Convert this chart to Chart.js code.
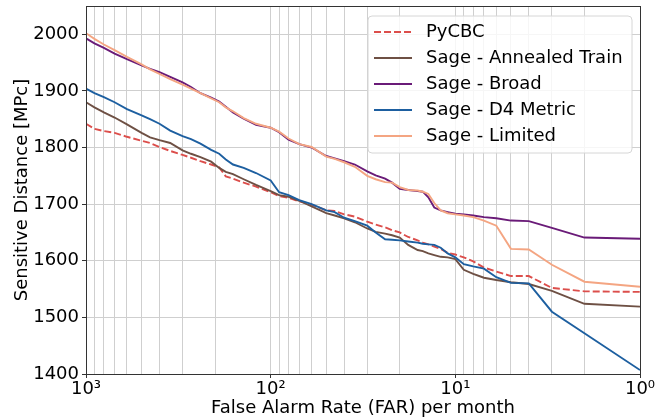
<!DOCTYPE html>
<html>
<head>
<meta charset="utf-8">
<script src="https://cdn.jsdelivr.net/npm/chart.js@4/dist/chart.umd.min.js"></script>
<style>
  html, body { margin: 0; padding: 0; background: #ffffff; }
  #wrap { width: 657px; height: 418px; }
</style>
</head>
<body>
<div id="wrap"><canvas id="c" width="657" height="418"></canvas></div>
<script>
// ---- data ----
const farValues = [1000, 900, 800, 700, 600, 500, 450, 400, 350, 300, 270, 240, 210, 190, 175, 160, 140, 120, 100, 90, 80, 70, 60, 50, 45, 40, 35, 30, 27, 24, 22, 20, 18, 16, 15, 14, 13, 12, 11, 10, 9, 8, 7, 6, 5, 4, 3, 2, 1];

const pycbc = [1842, 1833, 1829, 1826, 1819, 1812, 1808, 1801, 1794, 1787, 1782, 1776, 1770, 1765, 1749, 1745, 1738, 1731, 1721, 1714, 1711, 1705, 1699, 1689, 1688, 1682, 1678, 1669, 1664, 1659, 1654, 1650, 1642, 1636, 1632, 1629, 1625, 1621, 1614, 1611, 1606, 1599, 1588, 1581, 1573, 1573, 1552, 1546, 1545];

const annealedTrain = [1880, 1871, 1862, 1853, 1841, 1826, 1818, 1813, 1808, 1795, 1789, 1783, 1775, 1764, 1757, 1753, 1744, 1734, 1723, 1716, 1713, 1706, 1696, 1684, 1680, 1675, 1668, 1657, 1651, 1648, 1645, 1641, 1628, 1619, 1617, 1613, 1610, 1607, 1606, 1603, 1584, 1577, 1570, 1566, 1562, 1559, 1547, 1524, 1519];

const broad = [1993, 1984, 1976, 1966, 1956, 1945, 1939, 1933, 1925, 1915, 1907, 1896, 1888, 1881, 1872, 1862, 1851, 1840, 1835, 1827, 1814, 1806, 1800, 1785, 1781, 1776, 1770, 1758, 1751, 1745, 1738, 1727, 1725, 1723, 1722, 1712, 1694, 1689, 1686, 1683, 1682, 1680, 1677, 1675, 1671, 1670, 1658, 1641, 1639];

const d4Metric = [1904, 1896, 1889, 1880, 1868, 1857, 1850, 1842, 1830, 1820, 1815, 1807, 1796, 1789, 1779, 1770, 1764, 1755, 1742, 1721, 1716, 1707, 1700, 1689, 1686, 1676, 1670, 1662, 1650, 1638, 1637, 1636, 1634, 1632, 1630, 1629, 1628, 1623, 1613, 1606, 1594, 1590, 1586, 1571, 1561, 1560, 1510, 1472, 1407];

const limited = [2002, 1992, 1982, 1972, 1960, 1947, 1938, 1930, 1921, 1911, 1904, 1896, 1887, 1880, 1871, 1864, 1852, 1842, 1835, 1828, 1816, 1806, 1801, 1784, 1780, 1774, 1766, 1750, 1744, 1739, 1738, 1730, 1725, 1724, 1722, 1718, 1702, 1689, 1684, 1682, 1680, 1677, 1671, 1662, 1621, 1620, 1593, 1563, 1554];

const seriesNames = ['PyCBC', 'Sage - Annealed Train', 'Sage - Broad', 'Sage - D4 Metric', 'Sage - Limited'];

const xGridValues = [1, 2, 3, 4, 5, 6, 7, 8, 9, 10, 20, 30, 40, 50, 60, 70, 80, 90, 100, 200, 300, 400, 500, 600, 700, 800, 900, 1000];
const xTickLabels = { 1000: '10³', 100: '10²', 10: '10¹', 1: '10⁰' };
const yTickValues = [1400, 1500, 1600, 1700, 1800, 1900, 2000];
const yMin = 1400, yMax = 2050, xMin = 1, xMax = 1000;

const xTitle = 'False Alarm Rate (FAR) per month';
const yTitle = 'Sensitive Distance [MPc]';

// ---- styling ----
const colors = ['#dc4e4b', '#6e5044', '#6a1b78', '#1d5fa0', '#f4a582'];
const dashes = [[7, 3], [], [], [], []];
const seriesValues = [pycbc, annealedTrain, broad, d4Metric, limited];

const toPoints = (vals) => farValues.map((f, i) => ({ x: f, y: vals[i] }));

const datasets = seriesNames.map((name, i) => ({
  label: name,
  data: toPoints(seriesValues[i]),
  borderColor: colors[i],
  backgroundColor: colors[i],
  borderWidth: 1.9,
  borderDash: dashes[i],
  pointRadius: 0,
  tension: 0,
  fill: false,
  order: seriesNames.length - i
}));

const FONT = 'DejaVu Sans';
Chart.defaults.font.family = FONT;
Chart.defaults.font.size = 18;
Chart.defaults.color = '#000000';

const frameAndLegend = {
  id: 'frameAndLegend',
  afterDatasetsDraw(chart) {
    const { ctx, chartArea: a } = chart;
    ctx.save();
    ctx.strokeStyle = '#333333';
    ctx.lineWidth = 1;
    ctx.strokeRect(Math.round(a.left) + 0.5, Math.round(a.top) + 0.5,
                   Math.round(a.right - a.left), Math.round(a.bottom - a.top));
    ctx.restore();
  },
  afterDraw(chart) {
    const { ctx, chartArea: a } = chart;
    const bx = a.right - 272, by = a.top + 10, bw = 264, bh = 137, r = 4;
    ctx.save();
    ctx.beginPath();
    ctx.moveTo(bx + r, by);
    ctx.arcTo(bx + bw, by, bx + bw, by + bh, r);
    ctx.arcTo(bx + bw, by + bh, bx, by + bh, r);
    ctx.arcTo(bx, by + bh, bx, by, r);
    ctx.arcTo(bx, by, bx + bw, by, r);
    ctx.closePath();
    ctx.fillStyle = 'rgba(255,255,255,0.8)';
    ctx.fill();
    ctx.strokeStyle = '#d6d6d6';
    ctx.lineWidth = 1;
    ctx.stroke();
    ctx.font = '18px "' + FONT + '"';
    ctx.textBaseline = 'middle';
    ctx.textAlign = 'left';
    chart.data.datasets.forEach((ds, i) => {
      const y = by + 16 + i * 26;
      ctx.beginPath();
      ctx.setLineDash(ds.borderDash || []);
      ctx.strokeStyle = ds.borderColor;
      ctx.lineWidth = ds.borderWidth;
      ctx.moveTo(bx + 6, y);
      ctx.lineTo(bx + 44, y);
      ctx.stroke();
      ctx.setLineDash([]);
      ctx.fillStyle = '#000000';
      ctx.fillText(ds.label, bx + 58, y);
    });
    ctx.restore();
  }
};

new Chart(document.getElementById('c'), {
  type: 'line',
  data: { datasets },
  options: {
    responsive: false,
    animation: false,
    devicePixelRatio: 1,
    layout: { padding: { top: 6, right: 17, left: 0, bottom: 0 } },
    plugins: { legend: { display: false }, tooltip: { enabled: false } },
    scales: {
      x: {
        type: 'logarithmic',
        reverse: true,
        min: xMin,
        max: xMax,
        afterBuildTicks: (s) => { s.ticks = xGridValues.map(v => ({ value: v, major: !!xTickLabels[v] })); },
        afterFit: (s) => { s.height = 44; s.paddingLeft = 0; s.paddingRight = 0; },
        ticks: {
          autoSkip: false,
          maxRotation: 0,
          minRotation: 0,
          padding: 1,
          color: '#000000',
          font: { size: 18 },
          callback: (v) => xTickLabels[v] || ''
        },
        grid: {
          color: '#cfcfcf',
          lineWidth: 1,
          drawTicks: true,
          tickLength: 4,
          tickColor: (c) => (c.tick && xTickLabels[c.tick.value]) ? '#333333' : 'rgba(0,0,0,0)'
        },
        border: { display: false },
        title: {
          display: true,
          text: xTitle,
          font: { size: 18 },
          color: '#000000',
          padding: { top: 0, bottom: -1.6 }
        }
      },
      y: {
        type: 'linear',
        min: yMin,
        max: yMax,
        afterBuildTicks: (s) => { s.ticks = yTickValues.map(v => ({ value: v })); },
        afterFit: (s) => { s.width = 86; s.paddingTop = 0; s.paddingBottom = 0; },
        ticks: {
          padding: 3,
          color: '#000000',
          font: { size: 18 },
          callback: (v) => String(v)
        },
        grid: {
          color: '#cfcfcf',
          lineWidth: 1,
          drawTicks: true,
          tickLength: 4,
          tickColor: '#333333'
        },
        border: { display: false },
        title: {
          display: true,
          text: yTitle,
          font: { size: 18 },
          color: '#000000',
          padding: { top: 12, bottom: 0 }
        }
      }
    }
  },
  plugins: [frameAndLegend]
});
</script>
</body>
</html>
